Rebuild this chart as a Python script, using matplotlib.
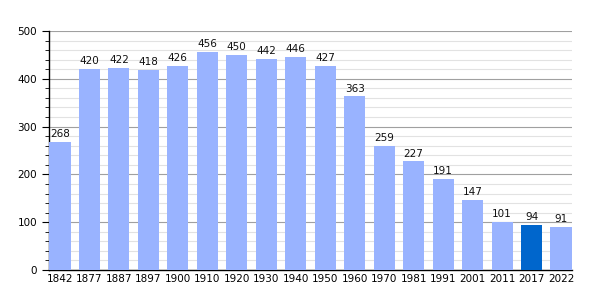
import matplotlib
matplotlib.use("Agg")
import matplotlib.pyplot as plt
from matplotlib.ticker import MultipleLocator

years = ["1842", "1877", "1887", "1897", "1900", "1910", "1920", "1930", "1940",
         "1950", "1960", "1970", "1981", "1991", "2001", "2011", "2017", "2022"]
population = [268, 420, 422, 418, 426, 456, 450, 442, 446, 427, 363, 259, 227,
              191, 147, 101, 94, 91]
highlight = "2017"

fig = plt.figure(figsize=(6, 3), dpi=100)
ax = fig.add_axes([0.0817, 0.1, 0.8716, 0.7967])
x = list(range(len(years)))
colors = ["#0066CC" if y == highlight else "#99B3FF" for y in years]
w = 0.72
ax.bar(x, population, width=w, color=colors, zorder=3)
for xi, v in zip(x, population):
    ax.text(xi, v + 6, str(v), ha="center", va="bottom", fontsize=7.5, color="#111111", zorder=4)

ax.set_xlim(-w / 2 - 0.01, len(years) - 1 + w / 2 + 0.01)
ax.set_ylim(0, 500)
ax.set_xticks(x)
ax.set_xticklabels(years, fontsize=7.5)
ax.yaxis.set_major_locator(MultipleLocator(100))
ax.yaxis.set_minor_locator(MultipleLocator(20))
ax.tick_params(axis="y", which="major", length=5, labelsize=7.5)
ax.tick_params(axis="y", which="minor", length=3)
ax.tick_params(axis="x", length=0, pad=3)
ax.grid(axis="y", which="major", color="#A0A0A0", linewidth=0.8, zorder=1)
ax.grid(axis="y", which="minor", color="#E2E2E2", linewidth=0.8, zorder=1)
for s in ["top", "right"]:
    ax.spines[s].set_visible(False)
ax.spines["left"].set_linewidth(1.0)
ax.spines["bottom"].set_linewidth(1.0)
fig.savefig("out.png", dpi=100)
